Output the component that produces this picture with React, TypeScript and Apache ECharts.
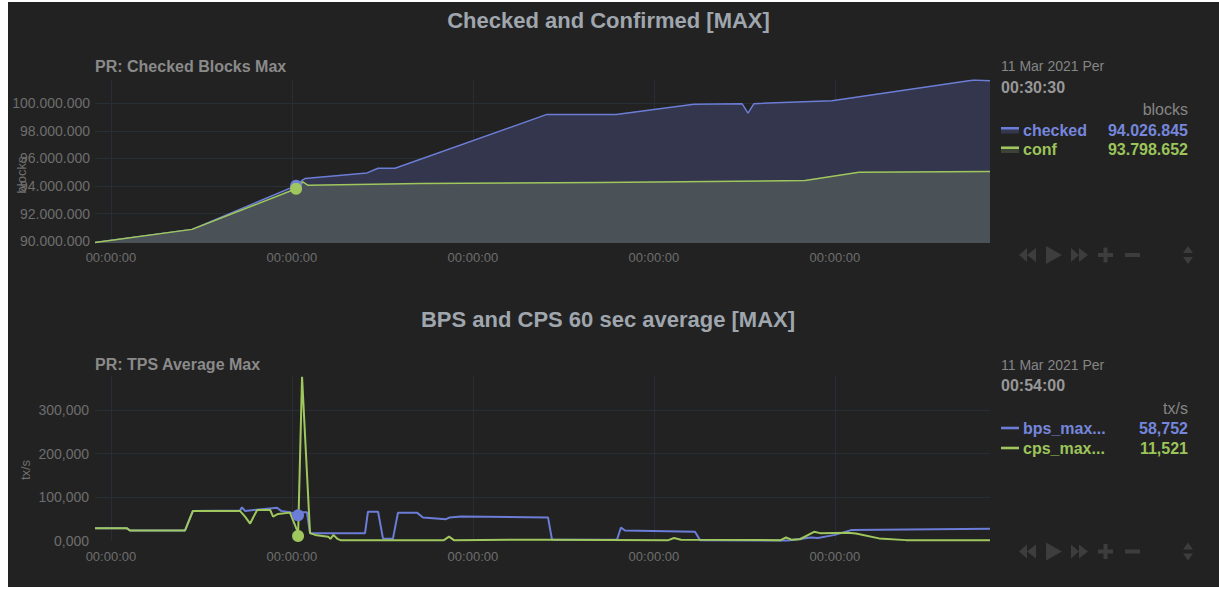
import React, { useEffect, useRef } from 'react';
import * as echarts from 'echarts';

// ---------- data ----------
// time axis in minutes from the window start (labels every 10 min)
const checkedTime = [9.12, 14.48, 20.23, 20.6, 20.72, 24.15, 24.76, 25.7, 34.09, 37.91, 42.21, 44.87, 45.2, 45.53, 49.84, 57.68, 58.57];
const checkedBlocks = [89.9e6, 90.85e6, 94026845, 94.45e6, 94.54e6, 94.95e6, 95.29e6, 95.29e6, 99.2e6, 99.2e6, 99.93e6, 99.98e6, 99.3e6, 99.98e6, 100.2e6, 101.7e6, 101.65e6];

const confTime = [9.12, 14.48, 20.23, 20.6, 20.9, 27.08, 37.02, 48.35, 51.33, 58.57];
const confBlocks = [89.9e6, 90.85e6, 93798652, 94.3e6, 94.05e6, 94.18e6, 94.25e6, 94.4e6, 95.0e6, 95.05e6];

const bpsTime = [9.12, 10.89, 11.05, 14.09, 14.53, 17.13, 17.24, 17.41, 19.18, 19.4, 19.89, 20.34, 20.61, 20.83, 21.0, 24.04, 24.2, 24.76, 25.03, 25.58, 25.86, 26.91, 27.24, 28.51, 28.73, 29.34, 34.15, 34.37, 37.96, 38.18, 38.4, 42.27, 42.55, 47.41, 48.68, 49.07, 50.0, 50.89, 58.57];
const bpsValue = [29000, 29000, 24000, 24000, 69000, 70000, 77000, 69000, 76000, 69000, 66000, 58752, 66000, 66000, 18000, 18000, 67000, 67000, 6000, 5000, 65000, 65000, 54000, 50000, 54000, 56000, 54000, 3000, 3000, 31000, 24000, 21000, 2000, 1000, 8000, 7000, 14000, 25000, 28000];

const cpsTime = [9.12, 10.89, 11.05, 14.09, 14.53, 17.13, 17.41, 17.69, 17.86, 18.08, 18.8, 18.96, 19.23, 19.89, 20.06, 20.28, 20.34, 20.56, 21.0, 21.28, 22.0, 22.13, 22.29, 22.51, 22.68, 28.4, 28.68, 28.95, 34.0, 40.8, 41.11, 41.5, 47.0, 47.3, 47.6, 48.07, 48.85, 49.18, 50.72, 51.16, 52.44, 53.93, 58.57];
const cpsValue = [29000, 29000, 24000, 24000, 69000, 69000, 56000, 40000, 54000, 71000, 71000, 56000, 62000, 65000, 48000, 25000, 11521, 376000, 18000, 14000, 10000, 5000, 14000, 5000, 2000, 2000, 10000, 2000, 3000, 2000, 7000, 3000, 2000, 8000, 3000, 4000, 21000, 18000, 19000, 17000, 6000, 2000, 2000];

const topCursor = { time: 20.23, checked: 94026845, conf: 93798652, date: '11 Mar 2021 Per', clock: '00:30:30' };
const bottomCursor = { time: 20.34, bps: 58752, cps: 11521, date: '11 Mar 2021 Per', clock: '00:54:00' };

const timeRange = [9.12, 58.57];
const topRange = [89.86e6, 101.7e6];
const bottomRange = [0, 378000];

// ---------- style ----------
const FONT = '"Liberation Sans", Arial, Helvetica, sans-serif';
const BG = '#222222';
const BLUE = '#6b7dd6';
const GREEN = '#9fc75e';
const BLUE_TXT = '#7586dc';
const GREEN_TXT = '#9cc45a';
const GRID = '#282e35';
const LABEL = '#6e6e6e';
const CTRL = '#3d3d3d';

const pairs = (xs: number[], ys: number[]) => xs.map((x, i) => [x, ys[i]]);
const grp = (v: number, sep: string) => Math.round(v).toString().replace(/\B(?=(\d{3})+(?!\d))/g, sep);
const isMult = (v: number, m: number) => Math.abs(v / m - Math.round(v / m)) < 1e-7;

function txt(x: number, y: number, text: string, font: string, fill: string, align = 'left', extra: any = {}) {
  return {
    type: 'text', x, y, silent: true, ...extra,
    style: { text, font, fill, align, textAlign: align, verticalAlign: 'middle', textVerticalAlign: 'middle' },
  };
}

function controls(cy: number) {
  const s = { fill: CTRL };
  return [
    { type: 'polygon', silent: true, shape: { points: [[1011, cy], [1019, cy - 7], [1019, cy + 7]] }, style: s },
    { type: 'polygon', silent: true, shape: { points: [[1019, cy], [1028, cy - 7], [1028, cy + 7]] }, style: s },
    { type: 'polygon', silent: true, shape: { points: [[1038, cy - 9], [1054, cy], [1038, cy + 9]] }, style: s },
    { type: 'polygon', silent: true, shape: { points: [[1063, cy - 7], [1071, cy], [1063, cy + 7]] }, style: s },
    { type: 'polygon', silent: true, shape: { points: [[1071, cy - 7], [1080, cy], [1071, cy + 7]] }, style: s },
    { type: 'rect', silent: true, shape: { x: 1090, y: cy - 2, width: 15, height: 4 }, style: s },
    { type: 'rect', silent: true, shape: { x: 1095.5, y: cy - 7.5, width: 4, height: 15 }, style: s },
    { type: 'rect', silent: true, shape: { x: 1117, y: cy - 2, width: 15, height: 4 }, style: s },
    { type: 'polygon', silent: true, shape: { points: [[1175, cy - 2], [1180, cy - 9], [1185, cy - 2]] }, style: s },
    { type: 'polygon', silent: true, shape: { points: [[1175, cy + 2], [1180, cy + 9], [1185, cy + 2]] }, style: s },
  ];
}

function legendIcon(y: number, line: string, fill: string | null) {
  const els: any[] = [];
  if (fill) {
    els.push({ type: 'rect', silent: true, shape: { x: 993, y: y - 3, width: 18, height: 6.5 }, style: { fill } });
  }
  els.push({ type: 'rect', silent: true, shape: { x: 993, y: fill ? y - 3 : y - 1.3, width: 18, height: fill ? 2.5 : 2.6 }, style: { fill: line } });
  return els;
}

export default function App() {
  const ref = useRef<HTMLDivElement>(null);

  useEffect(() => {
    if (!ref.current) return;
    const chart = echarts.init(ref.current, null, { renderer: 'svg' });

    const xAxisBase = (gridIndex: number, margin: number) => ({
      type: 'value', gridIndex, min: timeRange[0], max: timeRange[1], splitNumber: 5,
      axisLine: { show: false }, axisTick: { show: false },
      axisLabel: {
        color: LABEL, fontSize: 13, fontFamily: FONT, margin,
        showMinLabel: true, showMaxLabel: true,
        formatter: (v: number) => (isMult(v, 10) ? '00:00:00' : ''),
      },
      splitLine: { show: true, showMinLine: false, showMaxLine: false, lineStyle: { color: GRID, width: 1 } },
    });

    const marker = (color: string) => ({ color, opacity: 1, borderWidth: 0 });

    const option: any = {
      animation: false,
      backgroundColor: BG,
      grid: [
        { left: 87, top: 78, width: 895, height: 163 },
        { left: 87, top: 374, width: 895, height: 165 },
      ],
      xAxis: [xAxisBase(0, 8), xAxisBase(1, 9)],
      yAxis: [
        {
          type: 'value', gridIndex: 0, min: topRange[0], max: topRange[1], splitNumber: 5,
          axisLine: { show: false }, axisTick: { show: false },
          axisLabel: {
            color: LABEL, fontSize: 14, fontFamily: FONT, margin: 5,
            formatter: (v: number) => (isMult(v, 2e6) ? grp(v, '.') : ''),
          },
          splitLine: { show: true, showMinLine: false, showMaxLine: false, lineStyle: { color: GRID, width: 1 } },
        },
        {
          type: 'value', gridIndex: 1, min: bottomRange[0], max: bottomRange[1], splitNumber: 4,
          axisLine: { show: false }, axisTick: { show: false },
          axisLabel: {
            color: LABEL, fontSize: 14, fontFamily: FONT, margin: 6,
            formatter: (v: number) => (v === 0 ? '0,000' : isMult(v, 1e5) ? grp(v, ',') : ''),
          },
          splitLine: { show: true, showMinLine: false, showMaxLine: false, lineStyle: { color: GRID, width: 1 } },
        },
      ],
      series: [
        {
          name: 'checked', type: 'line', xAxisIndex: 0, yAxisIndex: 0, symbol: 'none', z: 2,
          data: pairs(checkedTime, checkedBlocks),
          lineStyle: { color: BLUE, width: 1.5 }, itemStyle: { color: BLUE },
          areaStyle: { color: '#33364c', opacity: 1, origin: 'start' },
        },
        {
          name: 'conf', type: 'line', xAxisIndex: 0, yAxisIndex: 0, symbol: 'none', z: 3,
          data: pairs(confTime, confBlocks),
          lineStyle: { color: GREEN, width: 1.5 }, itemStyle: { color: GREEN },
          areaStyle: { color: '#4a5157', opacity: 1, origin: 'start' },
        },
        {
          type: 'scatter', xAxisIndex: 0, yAxisIndex: 0, symbol: 'circle', symbolSize: 12, silent: true, z: 10,
          data: [
            { value: [topCursor.time, topCursor.checked], itemStyle: marker(BLUE) },
            { value: [topCursor.time, topCursor.conf], itemStyle: marker(GREEN) },
          ],
        },
        {
          name: 'bps_max', type: 'line', xAxisIndex: 1, yAxisIndex: 1, symbol: 'none', z: 2,
          data: pairs(bpsTime, bpsValue),
          lineStyle: { color: BLUE, width: 2 }, itemStyle: { color: BLUE },
        },
        {
          name: 'cps_max', type: 'line', xAxisIndex: 1, yAxisIndex: 1, symbol: 'none', z: 3,
          data: pairs(cpsTime, cpsValue),
          lineStyle: { color: GREEN, width: 2 }, itemStyle: { color: GREEN },
        },
        {
          type: 'scatter', xAxisIndex: 1, yAxisIndex: 1, symbol: 'circle', symbolSize: 12, silent: true, z: 10,
          data: [
            { value: [bottomCursor.time, bottomCursor.bps], itemStyle: marker(BLUE) },
            { value: [bottomCursor.time, bottomCursor.cps], itemStyle: marker(GREEN) },
          ],
        },
      ],
      graphic: {
        elements: [
          txt(600.5, 18, 'Checked and Confirmed [MAX]', `bold 22px ${FONT}`, '#9fa6ad', 'center'),
          txt(87, 64, 'PR: Checked Blocks Max', `bold 16px ${FONT}`, '#8a8a8a'),
          txt(13.5, 173, 'blocks', `13px ${FONT}`, LABEL, 'center', { rotation: Math.PI / 2 }),
          txt(993, 64, topCursor.date, `14px ${FONT}`, '#858585'),
          txt(993, 85, topCursor.clock, `bold 16px ${FONT}`, '#979797'),
          txt(1180, 107, 'blocks', `16px ${FONT}`, '#858585', 'right'),
          ...legendIcon(128, BLUE, '#34374d'),
          txt(1015, 128, 'checked', `bold 16px ${FONT}`, BLUE_TXT),
          txt(1180, 128, grp(topCursor.checked, '.'), `bold 16px ${FONT}`, BLUE_TXT, 'right'),
          ...legendIcon(147.5, GREEN, '#3c4334'),
          txt(1015, 147.5, 'conf', `bold 16px ${FONT}`, GREEN_TXT),
          txt(1180, 147.5, grp(topCursor.conf, '.'), `bold 16px ${FONT}`, GREEN_TXT, 'right'),
          ...controls(253),

          txt(600, 317, 'BPS and CPS 60 sec average [MAX]', `bold 22px ${FONT}`, '#9fa6ad', 'center'),
          txt(87, 362, 'PR: TPS Average Max', `bold 16px ${FONT}`, '#8a8a8a'),
          txt(17, 468, 'tx/s', `13px ${FONT}`, LABEL, 'center', { rotation: Math.PI / 2 }),
          txt(993, 363, bottomCursor.date, `14px ${FONT}`, '#858585'),
          txt(993, 383.5, bottomCursor.clock, `bold 16px ${FONT}`, '#979797'),
          txt(1180, 406, 'tx/s', `16px ${FONT}`, '#858585', 'right'),
          ...legendIcon(426, BLUE, null),
          txt(1015, 426, 'bps_max...', `bold 16px ${FONT}`, BLUE_TXT),
          txt(1180, 426, grp(bottomCursor.bps, ','), `bold 16px ${FONT}`, BLUE_TXT, 'right'),
          ...legendIcon(446, GREEN, null),
          txt(1015, 446, 'cps_max...', `bold 16px ${FONT}`, GREEN_TXT),
          txt(1180, 446, grp(bottomCursor.cps, ','), `bold 16px ${FONT}`, GREEN_TXT, 'right'),
          ...controls(549.5),
        ],
      },
    };

    chart.setOption(option);
    return () => chart.dispose();
  }, []);

  return (
    <div
      ref={ref}
      style={{ position: 'absolute', left: 8, top: 2, width: 1211, height: 585, background: BG }}
    />
  );
}
